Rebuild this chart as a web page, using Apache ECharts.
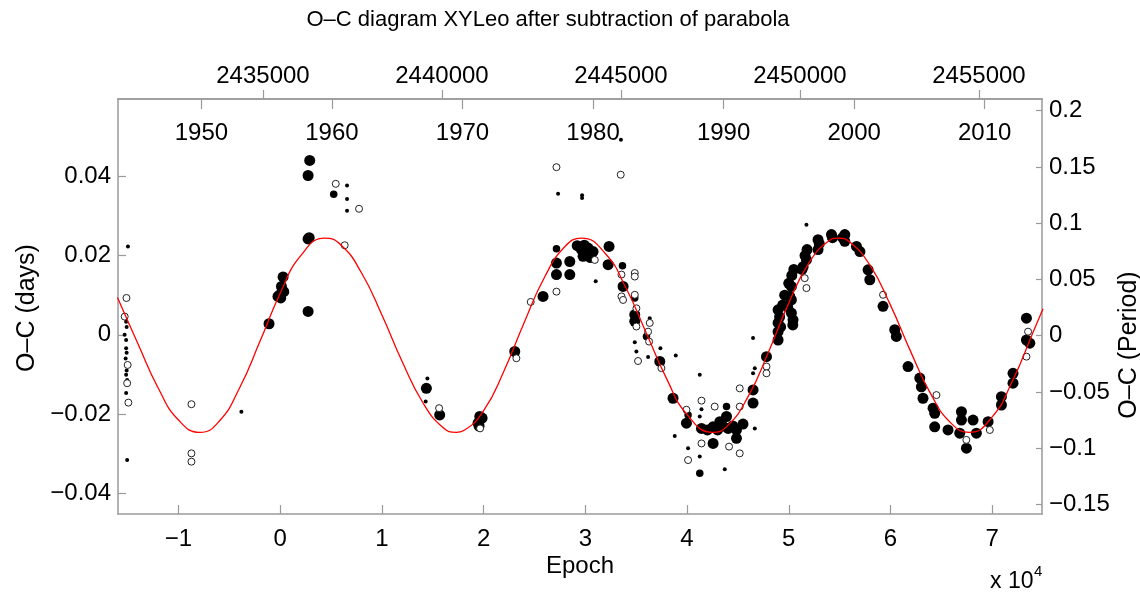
<!DOCTYPE html>
<html>
<head>
<meta charset="utf-8">
<script src="https://cdn.jsdelivr.net/npm/echarts@6/dist/echarts.min.js"></script>
<style>
html,body{margin:0;padding:0;background:#fff;}
#c{width:1140px;height:593px;}
</style>
</head>
<body>
<div id="c"></div>
<script>
// Epoch values in units of 10^4 cycles, O-C in days
const epochTicks = [-1, 0, 1, 2, 3, 4, 5, 6, 7];
const jdTicks = [2435000, 2440000, 2445000, 2450000, 2455000];
const yearTicks = [1950, 1960, 1970, 1980, 1990, 2000, 2010];
const daysTicks = [-0.04, -0.02, 0, 0.02, 0.04];
const periodTicks = [-0.15, -0.1, -0.05, 0, 0.05, 0.1, 0.15, 0.2];

// fitted curve
const curveE = [-1.6,-1.4,-1.2,-1.0,-0.79,-0.6,-0.4,-0.2,0.0,0.2,0.44,0.6,0.8,1.0,1.2,1.4,1.6,1.732,1.8,2.0,2.2,2.4,2.6,2.8,2.962,3.2,3.4,3.6,3.8,4.0,4.254,4.4,4.6,4.8,5.0,5.2,5.4,5.484,5.6,5.8,6.0,6.2,6.4,6.6,6.776,7.0,7.2,7.4,7.5];
const curveV = [0.0094,-0.0022,-0.0134,-0.0215,-0.0246,-0.0218,-0.0134,-0.0017,0.0105,0.0199,0.0244,0.0226,0.0156,0.0050,-0.0068,-0.0170,-0.0234,-0.0246,-0.0242,-0.0191,-0.0091,0.0032,0.0146,0.0223,0.0244,0.0204,0.0118,0.0004,-0.0111,-0.0201,-0.0246,-0.0229,-0.0156,-0.0044,0.0080,0.0182,0.0238,0.0244,0.0234,0.0175,0.0075,-0.0043,-0.0151,-0.0224,-0.0246,-0.0207,-0.0116,0.0005,0.0066];

// large filled minima
const bigPts = [
[-0.110,0.0028],[0.028,0.0146],[0.012,0.0122],[-0.005,0.0101],[0.035,0.0109],[0.005,0.0093],[-0.022,0.0097],
[0.274,0.0059],[0.274,0.0242],[0.285,0.0245],[0.274,0.0402],[0.290,0.0440],
[1.437,-0.0135],[1.568,-0.0202],[1.962,-0.0206],[1.945,-0.0223],[1.985,-0.0210],[1.955,-0.0230],
[2.306,-0.0042],[2.584,0.0097],[2.716,0.0152],[2.716,0.0181],[2.847,0.0185],[2.847,0.0152],
[2.962,0.0215],[2.978,0.0198],[3.027,0.0219],[3.076,0.0210],[3.233,0.0223],[3.224,0.0177],
[2.920,0.0225],[2.990,0.0226],[3.000,0.0205],[3.050,0.0195],
[3.371,0.0122],[3.486,0.0051],[3.486,0.0034],[3.732,-0.0067],[3.862,-0.0160],[3.994,-0.0223],
[4.142,-0.0236],[4.256,-0.0232],[4.256,-0.0274],[4.322,-0.0219],[4.388,-0.0206],[4.404,-0.0236],
[4.200,-0.0240],[4.300,-0.0240],[4.350,-0.0230],[4.450,-0.0230],[4.550,-0.0225],
[4.486,-0.0240],[4.486,-0.0261],[4.649,-0.0139],[4.649,-0.0172],[4.781,-0.0055],
[4.895,0.0063],[4.895,0.0030],[4.895,0.0008],[4.895,-0.0013],
[4.910,0.0045],[4.920,0.0020],[4.940,0.0075],[4.960,0.0100],[4.990,0.0070],[5.000,0.0130],
[5.030,0.0150],[5.050,0.0165],[5.040,0.0025],
[5.026,0.0122],[5.026,0.0088],[5.026,0.0055],[5.042,0.0038],[5.010,0.0097],
[5.174,0.0189],[5.141,0.0172],[5.160,0.0200],[5.180,0.0215],[5.130,0.0165],
[5.288,0.0240],[5.288,0.0215],[5.300,0.0230],[5.420,0.0253],[5.430,0.0245],[5.551,0.0253],[5.551,0.0236],[5.530,0.0245],
[5.666,0.0223],[5.700,0.0210],[5.780,0.0164],[5.797,0.0139],[5.927,0.0072],[6.042,0.0013],[6.058,-0.0004],
[6.173,-0.0080],[6.288,-0.0109],[6.304,-0.0131],[6.320,-0.0160],[6.419,-0.0185],[6.435,-0.0198],[6.435,-0.0232],
[6.566,-0.0240],[6.698,-0.0194],[6.698,-0.0215],[6.681,-0.0248],[6.747,-0.0286],[6.812,-0.0215],[6.845,-0.0248],
[6.960,-0.0219],[7.091,-0.0156],[7.091,-0.0177],[7.205,-0.0097],[7.205,-0.0122],
[7.337,0.0042],[7.337,-0.0013],[7.370,-0.0021]
];
// medium filled
const medPts = [
[0.526,0.0355],[2.716,0.0217],[3.365,0.0174],[3.486,0.0093],[3.601,-0.0004],[4.010,-0.0202],[4.388,-0.0181],[4.125,-0.0349]
];
// small filled (visual)
const smallPts = [
[-1.497,0.0223],[-1.515,0.0033],[-1.510,0.0020],[-1.530,0.0000],[-1.515,-0.0013],[-1.515,-0.0034],[-1.510,-0.0045],
[-1.520,-0.0060],[-1.510,-0.0090],[-1.515,-0.0101],[-1.505,-0.0114],[-1.515,-0.0147],[-1.505,-0.0316],
[-0.382,-0.0194],[0.657,0.0377],[0.657,0.0343],[0.657,0.0313],[1.447,-0.0110],[1.430,-0.0168],[2.732,0.0356],
[2.968,0.0345],[2.968,0.0352],[3.102,0.0135],[3.633,0.0042],[3.486,-0.0019],[3.502,-0.0042],[3.617,-0.0056],
[3.738,-0.0034],[3.889,-0.0052],[3.879,-0.0255],[4.010,-0.0286],[4.125,-0.0101],[4.142,-0.0188],[4.125,-0.0206],
[4.125,-0.0307],[4.371,-0.0339],[4.666,-0.0236],[4.649,-0.0008],[4.666,-0.0084],[4.649,-0.0097],[3.350,0.0492],
[5.174,0.0278]
];
// open circles
const openPts = [
[-1.512,0.0093],[-1.529,0.0046],[-1.500,-0.0076],[-1.505,-0.0122],[-1.493,-0.0171],
[-0.873,-0.0175],[-0.873,-0.0299],[-0.873,-0.0320],[0.546,0.0381],[0.775,0.0318],[0.634,0.0226],
[1.562,-0.0185],[1.965,-0.0236],[2.322,-0.0059],[2.463,0.0083],[2.716,0.0109],[2.716,0.0423],
[3.348,0.0404],[3.093,0.0189],[3.355,0.0152],[3.486,0.0156],[3.486,0.0147],[3.355,0.0097],[3.371,0.0088],
[3.486,0.0101],[3.502,0.0067],[3.502,0.0021],[3.633,0.0030],[3.617,0.0008],[3.627,-0.0017],[3.518,-0.0066],
[3.748,-0.0084],[3.994,-0.0189],[4.142,-0.0166],[4.142,-0.0274],[4.272,-0.0181],[4.413,-0.0282],[4.518,-0.0299],
[4.518,-0.0181],[4.518,-0.0135],[4.781,-0.0080],[4.781,-0.0097],[4.010,-0.0316],
[5.157,0.0143],[5.174,0.0118],[5.927,0.0101],[6.452,-0.0152],[6.746,-0.0265],[6.977,-0.0240],[7.353,0.0008],[7.337,-0.0055]
];

const FONT = 'Liberation Sans';
const FS = 24;
const AX = '#9a9a9a';
const minus = v => String(v).replace('-', '\u2212');

const chart = echarts.init(document.getElementById('c'), null, {renderer: 'canvas'});
const tick = (inside, len, vals) => ({show: true, inside: inside, length: len, customValues: vals, lineStyle: {color: AX, width: 1.2}});
const label = (margin, vals, fmt, inside) => ({color: '#000', fontSize: FS, fontFamily: FONT, margin: margin, inside: !!inside, customValues: vals, formatter: fmt});
const axisBase = (extra) => Object.assign({
  type: 'value',
  splitLine: {show: false},
  axisLine: {show: true, onZero: false, lineStyle: {color: AX, width: 1.5}}
}, extra);

const option = {
  animation: false,
  backgroundColor: '#fff',
  textStyle: {fontFamily: FONT},
  grid: {left: 118, right: 98, top: 99, bottom: 79, containLabel: false, outerBoundsMode: 'none'},
  xAxis: [
    axisBase({position: 'bottom', min: -1.595, max: 7.49, axisTick: tick(true, 9, epochTicks), axisLabel: label(13, epochTicks, minus)}),
    axisBase({position: 'top', min: 2430950, max: 2456760, axisTick: tick(false, 9, jdTicks), axisLabel: label(11, jdTicks, v => String(v))}),
    axisBase({position: 'top', min: 1943.61, max: 2014.39, axisTick: tick(true, 10, yearTicks), axisLabel: label(22, yearTicks, v => String(v), true)})
  ],
  yAxis: [
    axisBase({position: 'left', min: -0.0452, max: 0.0595, axisTick: tick(true, 8, daysTicks), axisLabel: label(7, daysTicks, minus)}),
    axisBase({position: 'right', min: -0.1585, max: 0.2104, axisTick: tick(true, 6, periodTicks), axisLabel: label(7, periodTicks, minus)})
  ],
  series: [
    {type: 'scatter', xAxisIndex: 0, yAxisIndex: 0, data: bigPts, symbol: 'circle', symbolSize: 11, itemStyle: {color: '#000', opacity: 1}, silent: true, z: 2},
    {type: 'scatter', xAxisIndex: 0, yAxisIndex: 0, data: medPts, symbol: 'circle', symbolSize: 7.5, itemStyle: {color: '#000', opacity: 1}, silent: true, z: 2},
    {type: 'scatter', xAxisIndex: 0, yAxisIndex: 0, data: smallPts, symbol: 'circle', symbolSize: 4, itemStyle: {color: '#000', opacity: 1}, silent: true, z: 2},
    {type: 'scatter', xAxisIndex: 0, yAxisIndex: 0, data: openPts, symbol: 'circle', symbolSize: 7, itemStyle: {color: '#fff', borderColor: '#222', borderWidth: 1, opacity: 1}, silent: true, z: 3},
    {type: 'line', xAxisIndex: 0, yAxisIndex: 0, data: curveE.map((e, i) => [e, curveV[i]]), showSymbol: false, smooth: true, silent: true,
      lineStyle: {color: '#ff0000', width: 1.3}, z: 5}
  ],
  graphic: [
    {type: 'text', x: 548, y: 20, style: {text: 'O\u2013C diagram XYLeo after subtraction of parabola', fontSize: 22, fontFamily: FONT, fill: '#000', align: 'center', verticalAlign: 'middle'}},
    {type: 'text', x: 580, y: 566, style: {text: 'Epoch', fontSize: 24, fontFamily: FONT, fill: '#000', align: 'center', verticalAlign: 'middle'}},
    {type: 'text', x: 990, y: 582, style: {text: 'x 10', fontSize: 23, fontFamily: FONT, fill: '#000', align: 'left', verticalAlign: 'middle'}},
    {type: 'text', x: 1034, y: 572, style: {text: '4', fontSize: 15, fontFamily: FONT, fill: '#000', align: 'left', verticalAlign: 'middle'}},
    {type: 'text', x: 27, y: 308, rotation: Math.PI / 2, style: {text: 'O\u2013C (days)', fontSize: 25, fontFamily: FONT, fill: '#000', align: 'center', verticalAlign: 'middle'}},
    {type: 'text', x: 1129, y: 345, rotation: Math.PI / 2, style: {text: 'O\u2013C (Period)', fontSize: 25, fontFamily: FONT, fill: '#000', align: 'center', verticalAlign: 'middle'}}
  ]
};
chart.setOption(option);
</script>
</body>
</html>
